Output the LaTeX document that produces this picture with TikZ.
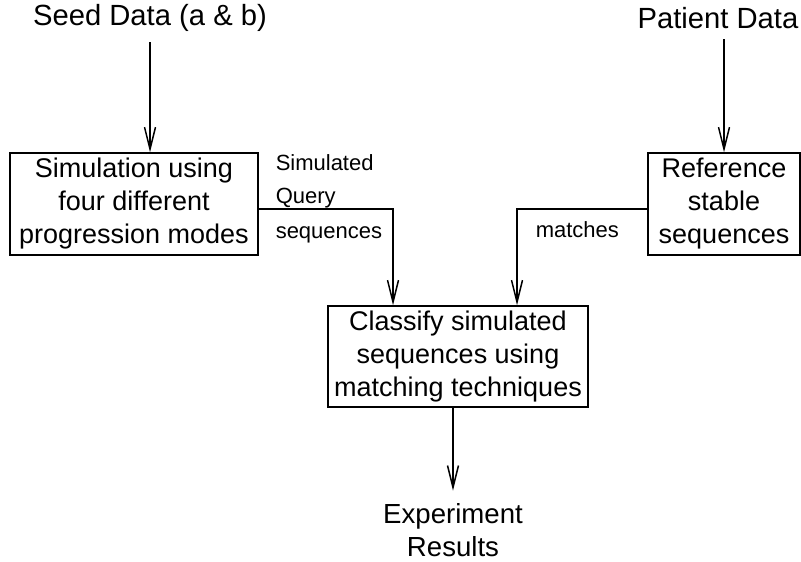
\documentclass[tikz,border=0pt]{standalone}
\usepackage{fontspec}
\setmainfont{Liberation Sans}
\usetikzlibrary{arrows.meta,positioning,calc}

\begin{document}
\begin{tikzpicture}[x=0.5pt, y=-0.5pt, >={Straight Barb[length=11pt,width=5.5pt]}, line width=0.75pt,
    stage/.style={draw, align=center, inner sep=0pt, font=\fontsize{13.5}{16.5}\selectfont},
    ends/.style={align=center, inner sep=0pt, font=\fontsize{13.8}{16.5}\selectfont},
    tag/.style={inner sep=0pt, anchor=base west, font=\fontsize{11}{14}\selectfont}]

    \useasboundingbox (0,0) rectangle (801,561);

    % --- Data sources ---
    \node[ends, font=\fontsize{14.6}{17}\selectfont] (seed) at (150,18) {Seed Data (a \& b)};
    \node[ends, font=\fontsize{14.6}{17}\selectfont] (patient) at (718,18) {Patient Data};

    % --- Processing boxes ---
    \node[stage, minimum width=124pt, minimum height=51pt] (sim) at (134,204) {Simulation using\\four different\\progression modes};
    \node[stage, minimum width=76pt, minimum height=51pt] (ref) at (724,204) {Reference\\stable\\sequences};
    \node[stage, minimum width=130pt, minimum height=50.5pt] (classify) at (458,356.5) {Classify simulated\\sequences using\\matching techniques};

    % --- Outcome ---
    \node[ends] (results) at (453,530) {Experiment\\Results};

    % --- Edge labels ---
    \node[tag] (simlbl) at (275,170) {Simulated};
    \node[tag] (qrylbl) at (275,203) {Query};
    \node[tag] (seqlbl) at (275,238) {sequences};
    \node[tag] (matchlbl) at (535,237) {matches};

    % --- Connectors ---
    \draw[->] ([yshift=-5pt]seed.south) -- (seed.south |- sim.north);
    \draw[->] ([yshift=-5pt]patient.south -| ref.north) -- (ref.north);
    \draw[->] ([yshift=-2.5pt]sim.east) -| ([xshift=-32.5pt]classify.north);
    \draw[->] ([yshift=-2.5pt]ref.west) -| ([xshift=29.5pt]classify.north);
    \draw[->] (classify.south -| results.north) -- ([yshift=6pt]results.north);

\end{tikzpicture}
\end{document}
